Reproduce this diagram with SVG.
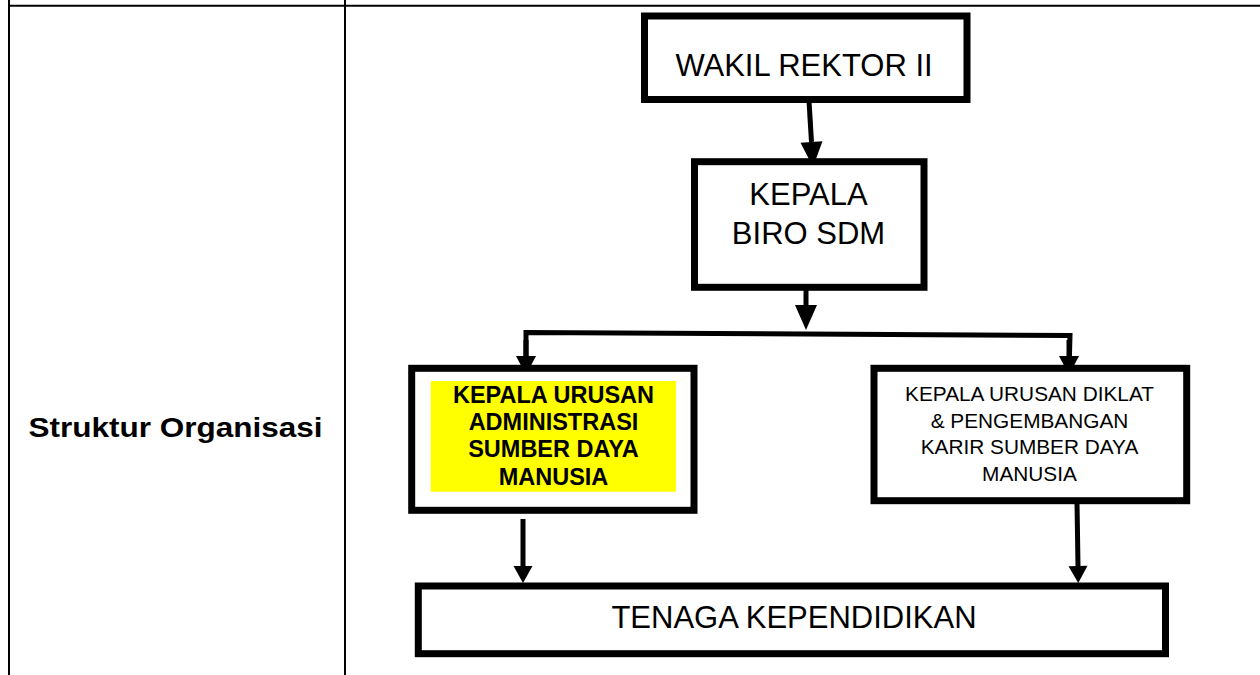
<svg xmlns="http://www.w3.org/2000/svg" width="1260" height="675" viewBox="0 0 1260 675">
<style>
.tbl{stroke:#000;stroke-width:2;fill:none}
.box{fill:#fff;stroke:#000;stroke-width:7}
.t{font-family:"Liberation Sans",Arial,sans-serif;fill:#000;text-anchor:middle}
.big{font-size:31px}
.bold{font-weight:bold}
.con{stroke:#000;stroke-width:5;fill:none}
</style>
<defs>
<marker id="aL" markerUnits="userSpaceOnUse" markerWidth="30" markerHeight="30" refX="0" refY="0" orient="auto" overflow="visible"><path d="M0,-11 L25,0 L0,11 z" fill="#000"/></marker>
<marker id="aM" markerUnits="userSpaceOnUse" markerWidth="30" markerHeight="30" refX="0" refY="0" orient="auto" overflow="visible"><path d="M0,-10 L19,0 L0,10 z" fill="#000"/></marker>
<marker id="aS" markerUnits="userSpaceOnUse" markerWidth="30" markerHeight="30" refX="0" refY="0" orient="auto" overflow="visible"><path d="M0,-9.5 L17,0 L0,9.5 z" fill="#000"/></marker>
</defs>
<g id="table">
<line class="tbl" x1="9" y1="0" x2="9" y2="675"/>
<line class="tbl" x1="345" y1="0" x2="345" y2="675"/>
<line class="tbl" x1="9" y1="5.7" x2="1260" y2="5.7"/>
<text class="t bold" x="175.5" y="437" font-size="27.5" textLength="294" lengthAdjust="spacingAndGlyphs">Struktur Organisasi</text>
</g>
<g id="connectors">
<line class="con" x1="809" y1="101" x2="811.5" y2="142" marker-end="url(#aL)"/>
<line class="con" x1="806" y1="290" x2="806" y2="305" marker-end="url(#aL)"/>
<path class="con" d="M526,372 L526,332.5 L1070,335.5 L1069,372" stroke-width="5.5"/>
<line class="con" x1="526" y1="340" x2="526" y2="356" marker-end="url(#aM)"/>
<line class="con" x1="1069" y1="340" x2="1069" y2="356" marker-end="url(#aM)"/>
<line class="con" x1="523" y1="519" x2="523" y2="566" marker-end="url(#aS)"/>
<line class="con" x1="1077" y1="503" x2="1078" y2="566" marker-end="url(#aS)"/>
</g>
<g id="wakil">
<rect class="box" x="644.5" y="16" width="322.5" height="83.5"/>
<text class="t big" x="804" y="76">WAKIL REKTOR II</text>
</g>
<g id="biro">
<rect class="box" x="694.5" y="161.7" width="229.5" height="125.6"/>
<text class="t big" x="808.5" y="205">KEPALA</text>
<text class="t big" x="808.5" y="244">BIRO SDM</text>
</g>
<g id="adm">
<rect class="box" x="411.7" y="368.3" width="282.3" height="142"/>
<rect x="430.7" y="381" width="245.3" height="110.7" fill="#ffff00"/>
<text class="t bold" font-size="23.5" x="553.5" y="402.7">KEPALA URUSAN</text>
<text class="t bold" font-size="23.5" x="553.5" y="430">ADMINISTRASI</text>
<text class="t bold" font-size="23.5" x="553.5" y="457.3">SUMBER DAYA</text>
<text class="t bold" font-size="23.5" x="553.5" y="485">MANUSIA</text>
</g>
<g id="diklat">
<rect class="box" x="874" y="368.3" width="312.7" height="132.4"/>
<text class="t" font-size="20.8" x="1029.5" y="401">KEPALA URUSAN DIKLAT</text>
<text class="t" font-size="20.8" x="1029.5" y="427.5">&amp; PENGEMBANGAN</text>
<text class="t" font-size="20.8" x="1029.5" y="454">KARIR SUMBER DAYA</text>
<text class="t" font-size="20.8" x="1029.5" y="480.5">MANUSIA</text>
</g>
<g id="tendik">
<rect class="box" x="418.3" y="586" width="747.2" height="67.7"/>
<text class="t big" x="794" y="628">TENAGA KEPENDIDIKAN</text>
</g>
</svg>
